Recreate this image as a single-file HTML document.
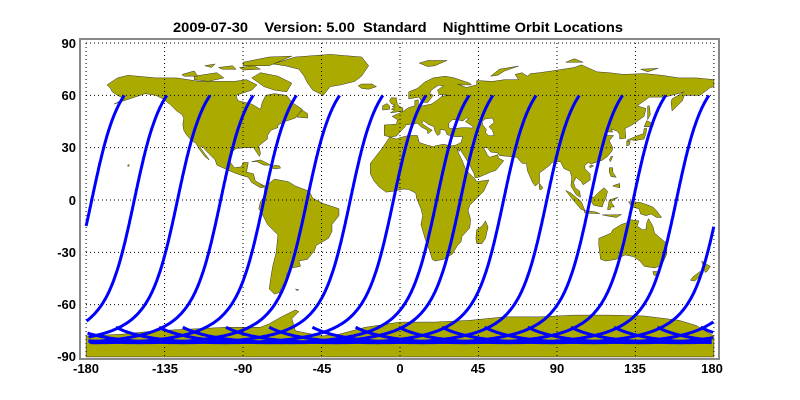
<!DOCTYPE html>
<html><head><meta charset="utf-8"><style>
html,body{margin:0;padding:0;background:#fff;}
svg{display:block;font-family:"Liberation Sans",Arial,sans-serif;font-weight:bold;}
</style></head><body>
<svg id="s" width="800" height="400" viewBox="0 0 800 400" xmlns="http://www.w3.org/2000/svg">
<rect width="800" height="400" fill="#fff"/>
<text x="173" y="32" font-size="14" textLength="450" lengthAdjust="spacingAndGlyphs" xml:space="preserve">2009-07-30    Version: 5.00  Standard    Nighttime Orbit Locations</text>
<g id="map" transform="translate(400,200) scale(1.744,-1.744)" fill="#aaaa00" stroke="#333" stroke-width="0.5" stroke-linejoin="round"></g>
<g id="grid" stroke="#000" stroke-width="1" stroke-dasharray="1,3"></g>
<g id="tracks" fill="none" stroke="#0000ff" stroke-width="3" stroke-linejoin="round"></g>
<rect x="80" y="39" width="639" height="320" fill="none" stroke="#888" stroke-width="2"/>
<g font-size="13" text-anchor="end">
<text x="76" y="48">90</text><text x="76" y="100">60</text><text x="76" y="152">30</text>
<text x="76" y="205">0</text><text x="76" y="257">-30</text><text x="76" y="309">-60</text><text x="76" y="361">-90</text>
</g>
<g font-size="13" text-anchor="middle">
<text x="86" y="373">-180</text><text x="165" y="373">-135</text><text x="243" y="373">-90</text><text x="322" y="373">-45</text>
<text x="400" y="373">0</text><text x="478" y="373">45</text><text x="557" y="373">90</text><text x="635" y="373">135</text><text x="712" y="373">180</text>
</g>
</svg>
<script>
var NS="http://www.w3.org/2000/svg";
var polys=[
[[-168,66],[-162,70],[-156,71.5],[-140,70],[-128,70],[-115,68],[-95,68],[-88,69],[-82,66],[-85,63],[-94,60],[-93,57],[-85,55],[-80,52],[-79,56],[-77,60],[-72,61],[-65,60],[-62,56],[-56,52],[-60,47],[-66,45],[-70,43],[-70,41.5],[-74,40],[-76,37],[-76,35],[-81,31],[-80,27],[-80.5,25],[-82,27],[-84,30],[-89,30],[-94,29.5],[-97,27],[-97.5,22],[-95,18.5],[-91,19],[-90,21.5],[-87,21.5],[-88,16],[-84,15],[-83,11],[-79.5,9],[-77.5,7.5],[-80,7],[-85,10],[-87,13],[-92,14.5],[-96,16],[-105,20],[-106,23],[-112,29],[-113,31],[-114.5,30],[-110,24],[-109.5,23],[-112,25],[-115,29],[-117,32.5],[-120,34.5],[-122.5,37.5],[-124,40],[-124.5,43],[-124,47],[-125,49],[-128,51],[-132,55],[-136,58],[-140,60],[-146,61],[-152,59],[-158,57],[-164,55],[-158,58],[-162,60],[-165,62],[-166,64]],
[[-73,78],[-60,82],[-40,83.5],[-22,82],[-18,77],[-22,71],[-26,68],[-34,66],[-40,65],[-44,60],[-50,63],[-53,67],[-55,71],[-58,75],[-66,77]],
[[-80,73],[-70,71],[-62,67],[-65,62],[-72,63],[-78,65],[-85,70]],
[[-118,71],[-105,73],[-101,70],[-110,68],[-118,69]],
[[-90,79],[-75,82],[-62,82.5],[-75,77],[-90,77]],
[[-125,72],[-118,74],[-116,71],[-124,71]],
[[-104,76],[-96,77],[-94,75],[-102,75]],[[-92,76],[-84,77],[-80,75],[-90,74.5]],[[-112,77],[-106,78],[-108,76]],
[[-80,9],[-77,8],[-72,12],[-64,10.5],[-60,8],[-52,5],[-50,1],[-44,-2],[-35,-5],[-35,-9],[-39,-14],[-39,-18],[-41,-22],[-48,-26],[-49,-29],[-53,-34],[-58,-35],[-57,-38],[-62,-39],[-65,-42],[-65,-46],[-68,-50],[-69,-53],[-72,-54],[-75,-51],[-74,-44],[-73,-38],[-71,-30],[-70,-20],[-76,-14],[-79,-8],[-81,-5],[-80,-1],[-78,2],[-77.5,7]],
[[-9,37],[-9,43],[-2,43.5],[-1.5,46],[-4.5,48],[-1,49.5],[2,51],[5,53],[8.5,54],[8.5,57],[10.5,57.5],[10.5,54.5],[13,54],[18,55],[21,57],[24,59.5],[29,60],[22.5,60.5],[21.5,63],[25,65.5],[22,65.8],[18,63],[17,61],[19,60],[16,56],[12.5,56],[11,59],[5,58],[5,62],[10,64],[14,67.5],[19,70],[26,71],[31,70],[40,67],[41,66],[35,66],[33,66.5],[38,64.5],[44,66],[44,68.5],[53,68],[60,69],[68,69],[66,72],[70,73],[73,71],[75,72.5],[80,73],[87,74],[100,76],[104,77.5],[113,73.5],[120,73],[128,72],[140,72.5],[150,71.5],[160,70],[170,70],[180,69],[180,65],[178,64.5],[172,60],[163,60],[162,57],[156,51],[155.5,56],[156,58],[163,62],[152,59],[143,59],[136,54],[141,52.5],[140,48],[133,43],[129,41],[129.5,35.5],[126,35],[126,37.5],[124.5,39.5],[121,40.8],[122,39],[118,39],[119,37],[122.5,37],[120,34],[122,30],[121.5,28],[119,25],[116,22.8],[110.5,21],[110,20.5],[108,21.5],[106,20],[106,18],[109,15],[109,11.5],[105,8.7],[104,10.5],[101,13],[99.5,10],[100.5,7],[103,5],[103.5,1.5],[101,3],[98,8],[98.5,13],[97.5,16.5],[94,18],[92,22],[90,22],[87,21.5],[86,20],[80,15.5],[80,10],[77.5,8],[76,10],[73,17],[72.5,21],[70,21],[67,24.5],[62,25],[57,25.5],[56,27],[52,27.5],[50,30],[48,30],[50,26],[51.5,24.5],[56,26],[56.5,24],[59.5,22.5],[55,17],[52,16],[45,13],[43,12.8],[42.5,15],[40,20],[37,25],[35,28],[34.8,29.5],[34,27.8],[32.5,30],[33.5,27],[35.5,23],[37.5,18],[39.5,15.5],[43,12],[44,10.5],[51,11.5],[48,5],[42,-1],[40,-3],[39,-6],[40.5,-11],[40,-16],[35.5,-21],[35,-24],[33,-26],[30,-31],[25,-34],[20,-35],[18.5,-34],[17,-29],[14.5,-22.5],[12,-14],[13,-9],[12,-5],[9.5,1],[9,4],[5,6],[2,6.3],[-4,5],[-8,4.5],[-12,7.5],[-15,11],[-17,15],[-17,21],[-10,30],[-6,36],[-2,35],[0,35.8],[5,37],[10,37],[11,33],[15.5,31.5],[19.5,30.5],[20,31],[25,32],[29,31],[32,31.5],[35,33],[36,36.5],[33,36.2],[30,36.5],[27,37.5],[26,40],[23,40.5],[23,38],[21.5,37],[20,39.5],[19.5,42],[16,43.5],[13.5,45.5],[12.5,44],[16,41.5],[18.5,40],[16,38],[15.7,40],[12,42],[10,44],[7,43.5],[3,43],[3,42],[0,39],[-2,36.7],[-5.5,36]],
[[-180,-78],[-160,-77],[-150,-76],[-140,-75],[-120,-74],[-100,-73],[-80,-73],[-75,-71],[-68,-67],[-60,-63],[-58,-64],[-62,-68],[-60,-75],[-45,-78],[-35,-77],[-20,-73],[0,-70],[20,-70],[40,-69],[60,-67],[80,-67],[100,-66],[120,-66],[140,-66.5],[160,-69],[170,-72],[180,-78],[180,-90],[-180,-90]],
[[114,-22],[114,-26],[115,-34],[118,-35],[124,-34],[129,-31.5],[134,-32.5],[137.5,-35],[140,-38],[146,-39],[150,-37.5],[153,-31],[153,-25],[146,-19],[145,-15],[142.5,-10.7],[141.5,-13],[141,-17],[139,-17],[136,-15],[137,-12],[132,-11.3],[130,-13],[127,-14],[122,-17],[121,-19]],
[[145,-41],[148,-41],[147,-43.5],[145.5,-43]],
[[173,-35],[176,-37],[178,-38],[176,-41],[175,-41.5],[174,-39]],
[[172,-41],[174,-41.5],[171,-44.5],[169,-46.5],[166.5,-46],[168,-44]],
[[49,-12],[50.5,-15.5],[49,-22],[47,-25],[44,-25],[43.5,-22],[44,-17],[47,-15]],
[[130.5,34],[133,34.5],[135,34],[137,34.5],[140,35],[141,38],[141.5,41],[140,41],[139.5,38],[136.5,37],[133,35.5],[130.5,34.5]],
[[140,42],[141.5,45.5],[145.5,43.5],[143,42]],[[130,31],[131.5,31.5],[132,33.5],[130,33.8]],
[[142,46],[143.5,49],[143,54],[142,54],[142,49]],
[[95,5.5],[98,4],[104,-1],[106,-6],[104,-5.5],[101,-2],[98,1.5]],
[[105.5,-6],[112,-6.8],[114.5,-7.8],[106,-7.5]],
[[109,2],[111,1.5],[114,4.5],[117,7],[119,5],[118,1],[116.5,-2],[116,-4],[111,-3],[110,-1.5]],
[[119,-5.5],[120,0],[123,1],[125,1.5],[121,-1],[123,-4],[121,-4],[120.5,-5.5]],
[[131,-1],[134,-1],[138,-1.5],[141,-2.5],[145,-4],[147,-6],[150,-10],[147,-10],[144,-8],[141,-9],[138,-8],[137,-5],[133,-4],[132,-2.5]],
[[120,18.5],[122,18.5],[122,16],[124,13],[121,13.5],[120,16]],[[122,8],[126,7],[126,9.5],[123,8.5]],
[[116,-8.5],[120,-8.5],[124,-8.5],[127,-8.3],[124,-10],[118,-9]],
[[80,9.5],[82,7],[81,6],[80,6],[79.8,8]],[[120,23],[121,25],[122,25],[120.7,22]],[[109,18.5],[111,19.5],[110,20],[108.6,19.5]],
[[-5,50],[1.5,51],[1.7,52.7],[0,53.5],[-1.5,55],[-2,57],[-2,58.5],[-5,58.6],[-6,57],[-5,55.2],[-3,54.5],[-4.5,53.5],[-3,53.3],[-5,52],[-3,51.5],[-5.5,50]],
[[-6,52],[-6,54],[-7.5,55.3],[-10,54],[-10,51.6]],
[[-24,65.5],[-22,66.5],[-16,66.5],[-13.5,65],[-18,63.5],[-22,64]],
[[11,78.5],[16,80],[27,80],[20,77],[16,76.5]],[[52,71],[57,75],[68,76.8],[60,74],[56,71.5]],
[[95,79],[100,81],[105,79]],[[138,75],[148,75.5],[142,73.5]],
[[-85,22],[-80,23],[-77,21.5],[-74,20],[-78,20],[-82,22]],[[-74,18.5],[-72,20],[-69,19.5],[-68.5,18.3],[-71.5,17.8]],
[[-59,47.5],[-53,47],[-53,49.5],[-56,51.5],[-59,48.5]],
[[-156,19],[-155,20],[-156,20.3]],[[-60,-51],[-58,-51.5],[-59,-52]]
];
var water=[
[[28,41.5],[28,44],[30,46],[33,46],[36,45.3],[38,47],[39.5,46.8],[37.5,45],[42,42],[41.5,41.3],[36,41.5],[31,41],[29,41]],
[[47,45],[49,46.5],[53,47],[54,44.5],[51,42],[53,40],[54,37],[51,36.8],[49,38.5],[49.5,40.5],[47.5,43]]
];
var map=document.getElementById("map");
function addPoly(p,fill){var e=document.createElementNS(NS,"polygon");e.setAttribute("points",p.map(function(q){return q[0]+","+q[1];}).join(" "));e.setAttribute("vector-effect","non-scaling-stroke");if(fill)e.setAttribute("fill",fill);map.appendChild(e);}
polys.forEach(function(p){addPoly(p);});water.forEach(function(p){addPoly(p,"#fff");});
function X(l){return 400+l*1.744;}function Y(l){return 200-l*1.744;}
var g=document.getElementById("grid"),h="";
for(var lo=-180;lo<=180;lo+=45)h+='<line x1="'+X(lo)+'" y1="43" x2="'+X(lo)+'" y2="357"/>';
for(var la=-60;la<=90;la+=30)h+='<line x1="86" y1="'+Y(la)+'" x2="714" y2="'+Y(la)+'"/>';
g.innerHTML=h;
var D=Math.PI/180,inc=98.2*D,xs=[];
for(var k=0;k<8;k++)xs.push(134.3+43.2*k);
for(var k=0;k<7;k++)xs.push(460.4+43.2*k);
var t=document.getElementById("tracks"),th="";
xs.forEach(function(x0){var L0=(x0-400)/1.744;var d="",prev=null;
for(var u=-105;u<=61.05;u+=0.5){var uu=Math.min(u,61.04);var lat=Math.asin(Math.sin(inc)*Math.sin(uu*D))/D;
var lon=L0-Math.atan2(Math.cos(inc)*Math.sin(uu*D),Math.cos(uu*D))/D+0.06875*uu;
lon=((lon+180)%360+360)%360-180;
if(prev===null||Math.abs(lon-prev)>180)d+="M";else d+="L";
d+=X(lon).toFixed(1)+","+Y(lat).toFixed(1);prev=lon;}
th+='<path d="'+d+'"/>';});
t.innerHTML=th;
</script>
</body></html>
